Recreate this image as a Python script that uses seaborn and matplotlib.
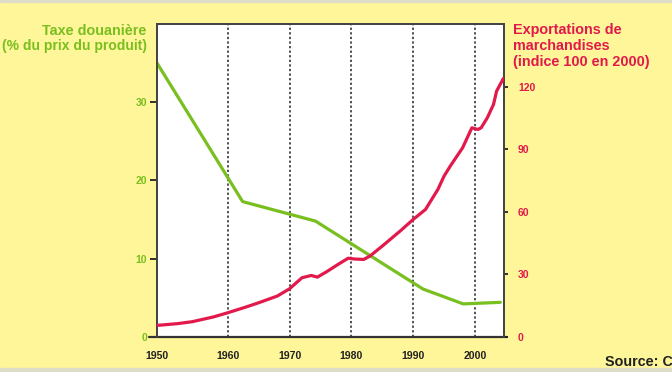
import numpy as np
import pandas as pd
import matplotlib
matplotlib.use("Agg")
import matplotlib.pyplot as plt
import seaborn as sns

# ---- data ----
tax_years = [1950, 1962.4, 1974.2, 1991.6, 1998.1, 2004.1]
tax_values = [35.1, 17.3, 14.8, 6.1, 4.2, 4.4]

exp_years = [1950, 1953, 1955, 1958, 1960, 1963, 1965, 1968, 1970, 1972, 1973.5,
             1974.5, 1976, 1978, 1979.5, 1980.5, 1982, 1983, 1985, 1988, 1990,
             1992, 1994, 1995, 1996, 1998, 1999.5, 2000.5, 2001, 2002, 2003,
             2003.5, 2004.6]
exp_values = [5.4, 6.3, 7.2, 9.5, 11.5, 14.3, 16.3, 19.5, 23.0, 28.3, 29.4,
              28.6, 31.2, 35.0, 37.7, 37.3, 37.1, 38.7, 43.5, 51.0, 56.3,
              61.1, 70.7, 77.1, 81.9, 90.7, 100.3, 99.5, 100.3, 105.1, 111.5,
              117.9, 124.0]

x_ticks = [1950, 1960, 1970, 1980, 1990, 2000]
left_ticks = [0, 10, 20, 30]
right_ticks = [0, 30, 60, 90, 120]

# ---- styling ----
BG = "#FFF69A"
GREEN = "#79BF1F"
RED = "#E2194B"
DARK = "#222222"
FONT = ["Liberation Sans", "DejaVu Sans"]

sns.set_theme(style="white")
plt.rcParams["font.family"] = FONT
plt.rcParams["font.weight"] = "bold"

fig = plt.figure(figsize=(6.72, 3.72), dpi=100, facecolor=BG)
ax = fig.add_axes([0.2332, 0.0949, 0.7500 - 0.2332, 0.9347 - 0.0949])
ax.set_facecolor("white")

# first decade is drawn slightly wider in the original
def fwd(x):
    x = np.asarray(x, dtype=float)
    return np.where(x < 1960, 1960 - (1960 - x) * 1.15, x)

def inv(y):
    y = np.asarray(y, dtype=float)
    return np.where(y < 1960, 1960 - (1960 - y) / 1.15, y)

ax.set_xscale("function", functions=(fwd, inv))

tax_df = pd.DataFrame({"year": tax_years, "value": tax_values})
exp_df = pd.DataFrame({"year": exp_years, "value": exp_values})

for xv in x_ticks[1:]:
    ax.axvline(xv, color=DARK, lw=1.1, ls=(0, (1.5, 1.5)), zorder=1)

sns.lineplot(data=tax_df, x="year", y="value", ax=ax, color=GREEN, lw=2.3,
             zorder=3, legend=False)
ax.set_xlim(1950, 2004.7)
ax.set_ylim(0, 40)

ax2 = ax.twinx()
sns.lineplot(data=exp_df, x="year", y="value", ax=ax2, color=RED, lw=2.3,
             zorder=3, legend=False)
ax2.set_ylim(0, 150)
ax2.set_xlim(1950, 2004.7)

for a in (ax, ax2):
    a.set_xlabel("")
    a.set_ylabel("")
    a.grid(False)
    for s in a.spines.values():
        s.set_color("#444444")
        s.set_linewidth(1.3)
ax.spines["bottom"].set_visible(False)
ax2.spines["bottom"].set_visible(False)

# bottom axis line extending beyond the plot
ax.plot([-0.022, 1.01], [0, 0], transform=ax.transAxes, color="#333333",
        lw=1.6, clip_on=False, zorder=5)

ax.set_xticks(x_ticks)
ax.set_xticklabels([str(v) for v in x_ticks])
ax.tick_params(axis="x", length=0, pad=10, labelsize=7.6, labelcolor=DARK)
for t in ax.get_xticklabels():
    t.set_fontweight("bold")

ax.set_yticks(left_ticks)
ax.set_yticklabels([str(v) for v in left_ticks])
ax.tick_params(axis="y", left=True, length=5, width=1.3, color=DARK,
               labelsize=7.5, labelcolor=GREEN, pad=2)
for t in ax.get_yticklabels():
    t.set_fontweight("bold")

ax2.set_yticks(right_ticks)
ax2.set_yticklabels([str(v) for v in right_ticks])
ax2.tick_params(axis="y", right=True, length=3, width=1.3, color=DARK,
                labelsize=7.5, labelcolor=RED, pad=7)
for t in ax2.get_yticklabels():
    t.set_fontweight("bold")

# titles
TS = 10.4
fig.text(146 / 672, 1 - 31 / 372, "Taxe douanière", ha="right", va="center",
         color=GREEN, fontsize=TS, fontweight="bold")
fig.text(147 / 672, 1 - 46 / 372, "(% du prix du produit)", ha="right",
         va="center", color=GREEN, fontsize=10.0, fontweight="bold")
fig.text(513 / 672, 1 - 30 / 372, "Exportations de", ha="left", va="center",
         color=RED, fontsize=TS, fontweight="bold")
fig.text(513 / 672, 1 - 46 / 372, "marchandises", ha="left", va="center",
         color=RED, fontsize=TS, fontweight="bold")
fig.text(513 / 672, 1 - 62 / 372, "(indice 100 en 2000)", ha="left",
         va="center", color=RED, fontsize=TS, fontweight="bold")
fig.text(605 / 672, 1 - 362 / 372, "Source: C", ha="left", va="center",
         color=DARK, fontsize=TS, fontweight="bold")

# thin gray border strips at top/bottom
fig.patches.append(plt.Rectangle((0, 0), 1, 4 / 372, transform=fig.transFigure,
                                 color="#DCDCC8", zorder=0))
fig.patches.append(plt.Rectangle((0, 1 - 2 / 372), 1, 2 / 372,
                                 transform=fig.transFigure, color="#DCDCC8",
                                 zorder=0))

fig.savefig("out.png", dpi=100, facecolor=BG)
